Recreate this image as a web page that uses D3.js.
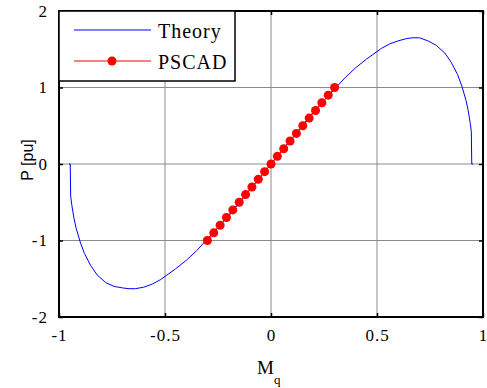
<!DOCTYPE html>
<html>
    <head>
        <meta charset="utf-8">
        <script type="text/javascript" src="https://d3js.org/d3.v7.min.js"></script>
<style>
    body { margin: 0; background: #fff; }
    .tick text { font-family: "Liberation Serif", "Times New Roman", serif; font-size: 17px; letter-spacing: 1px; fill: #000; }
</style>
    </head>
    <body>
        <div id="chart"></div>
        <script>
      // data
            var theory_m = [-0.953, -0.947, -0.945, -0.94, -0.93, -0.92, -0.90, -0.88, -0.85, -0.82, -0.78, -0.74, -0.70, -0.67, -0.64, -0.60,
                            -0.56, -0.52, -0.50, -0.45, -0.40, -0.35, -0.30, -0.25, -0.20, -0.15, -0.10, -0.05, 0,
                            0.05, 0.10, 0.15, 0.20, 0.25, 0.30, 0.35, 0.40, 0.45, 0.50, 0.52, 0.56, 0.60, 0.64, 0.67, 0.70,
                            0.74, 0.78, 0.82, 0.85, 0.88, 0.90, 0.92, 0.93, 0.94, 0.945, 0.947, 0.953];
            var theory_p = [0, 0, -0.42, -0.53, -0.70, -0.83, -1.02, -1.17, -1.33, -1.45, -1.55, -1.60, -1.62, -1.63, -1.63, -1.61,
                            -1.57, -1.51, -1.47, -1.37, -1.26, -1.13, -0.98, -0.83, -0.68, -0.51, -0.34, -0.17, 0,
                            0.17, 0.34, 0.51, 0.68, 0.83, 0.98, 1.13, 1.26, 1.37, 1.47, 1.51, 1.57, 1.61, 1.64, 1.65, 1.65,
                            1.61, 1.55, 1.45, 1.33, 1.17, 1.02, 0.83, 0.70, 0.53, 0.42, 0, 0];

            var pscad_m = [-0.30, -0.27, -0.24, -0.21, -0.18, -0.15, -0.12, -0.09, -0.06, -0.03, 0,
                           0.03, 0.06, 0.09, 0.12, 0.15, 0.18, 0.21, 0.24, 0.27, 0.30];
            var pscad_p = [-1.0, -0.9, -0.8, -0.7, -0.6, -0.5, -0.4, -0.3, -0.2, -0.1, 0,
                           0.1, 0.2, 0.3, 0.4, 0.5, 0.6, 0.7, 0.8, 0.9, 1.0];

            var x_ticks = [-1, -0.5, 0, 0.5, 1];
            var x_labels = ['-1', '-0.5', '0', '0.5', '1'];
            var y_ticks = [-2, -1, 0, 1, 2];
            var y_labels = ['-2', '-1', '0', '1', '2'];

            var chart_width = 487;
            var chart_height = 388;
            var pad_left = 59, pad_right = 483, pad_top = 11, pad_bottom = 317;

      // create SVG element
            var svg = d3.select('#chart')
            .append('svg')
            .attr('width', chart_width)
            .attr('height', chart_height);

      // scales
            var x_scale = d3.scaleLinear().domain([-1, 1]).range([pad_left, pad_right]);
            var y_scale = d3.scaleLinear().domain([-2, 2]).range([pad_bottom, pad_top]);

      // grid lines
            svg.selectAll('.gx')
            .data(x_ticks)
            .enter()
            .append('line')
            .attr('x1', (d) => x_scale(d))
            .attr('x2', (d) => x_scale(d))
            .attr('y1', pad_top)
            .attr('y2', pad_bottom)
            .attr('stroke', '#8c8c8c')
            .attr('stroke-width', 1);

            svg.selectAll('.gy')
            .data(y_ticks)
            .enter()
            .append('line')
            .attr('x1', pad_left)
            .attr('x2', pad_right)
            .attr('y1', (d) => y_scale(d))
            .attr('y2', (d) => y_scale(d))
            .attr('stroke', '#8c8c8c')
            .attr('stroke-width', 1);

      // axes (ticks point inward)
            svg.append('g')
            .attr('transform', 'translate(0,' + pad_bottom + ')')
            .call(d3.axisBottom(x_scale).tickValues(x_ticks).tickSize(-4).tickPadding(12)
                .tickFormat((d, i) => x_labels[i]));

            svg.append('g')
            .attr('transform', 'translate(0,' + pad_top + ')')
            .call(d3.axisTop(x_scale).tickValues(x_ticks).tickSize(-4).tickFormat(''));

            svg.append('g')
            .attr('transform', 'translate(' + pad_left + ',0)')
            .call(d3.axisLeft(y_scale).tickValues(y_ticks).tickSize(-4).tickPadding(11)
                .tickFormat((d, i) => y_labels[i]));

            svg.append('g')
            .attr('transform', 'translate(' + pad_right + ',0)')
            .call(d3.axisRight(y_scale).tickValues(y_ticks).tickSize(-4).tickFormat(''));

            svg.selectAll('.domain').remove();
            svg.selectAll('.tick line').attr('stroke', '#000').attr('stroke-width', 1.5);

      // axis box
            svg.append('rect')
            .attr('x', pad_left)
            .attr('y', pad_top)
            .attr('width', pad_right - pad_left)
            .attr('height', pad_bottom - pad_top)
            .attr('fill', 'none')
            .attr('stroke', '#000')
            .attr('stroke-width', 2);

      // theory curve
            var theory = theory_m.map((m, i) => [m, theory_p[i]]);
            var line = d3.line()
            .x((d) => x_scale(d[0]))
            .y((d) => y_scale(d[1]));

            svg.append('path')
            .datum(theory)
            .attr('d', line)
            .attr('fill', 'none')
            .attr('stroke', '#0000ff')
            .attr('stroke-width', 1);

      // pscad points
            var pscad = pscad_m.map((m, i) => [m, pscad_p[i]]);
            svg.append('path')
            .datum(pscad)
            .attr('d', line)
            .attr('fill', 'none')
            .attr('stroke', '#ff0000')
            .attr('stroke-width', 1);

            svg.selectAll('.dot')
            .data(pscad)
            .enter()
            .append('circle')
            .attr('cx', (d) => x_scale(d[0]))
            .attr('cy', (d) => y_scale(d[1]))
            .attr('r', 4.5)
            .attr('fill', '#ff0000');

      // legend
            var lg = svg.append('g');
            lg.append('rect')
            .attr('x', pad_left)
            .attr('y', pad_top)
            .attr('width', 176)
            .attr('height', 70)
            .attr('fill', '#fff')
            .attr('stroke', '#000')
            .attr('stroke-width', 1.5);

            lg.append('line')
            .attr('x1', 74).attr('x2', 151)
            .attr('y1', 30).attr('y2', 30)
            .attr('stroke', '#0000ff');

            lg.append('line')
            .attr('x1', 74).attr('x2', 151)
            .attr('y1', 61).attr('y2', 61)
            .attr('stroke', '#ff0000');

            lg.append('circle')
            .attr('cx', 112).attr('cy', 61).attr('r', 4.5)
            .attr('fill', '#ff0000');

            lg.selectAll('text')
            .data(['Theory', 'PSCAD'])
            .enter()
            .append('text')
            .text((d) => d)
            .attr('x', 158)
            .attr('y', (d, i) => 38 + i * 31)
            .attr('font-family', '"Liberation Serif", "Times New Roman", serif')
            .attr('font-size', 20)
            .attr('letter-spacing', 1);

      // axis labels
            var xl = svg.append('text')
            .attr('x', 257)
            .attr('y', 374)
            .attr('font-family', '"Liberation Serif", "Times New Roman", serif')
            .attr('font-size', 19);
            xl.append('tspan').text('M');
            xl.append('tspan').text('q').attr('dy', 10).attr('font-size', 13);

            svg.append('text')
            .text('P [pu]')
            .attr('transform', 'translate(33,160) rotate(-90)')
            .attr('text-anchor', 'middle')
            .attr('font-family', '"Liberation Sans", Arial, sans-serif')
            .attr('font-size', 16);
        </script>
    </body>
</html>
